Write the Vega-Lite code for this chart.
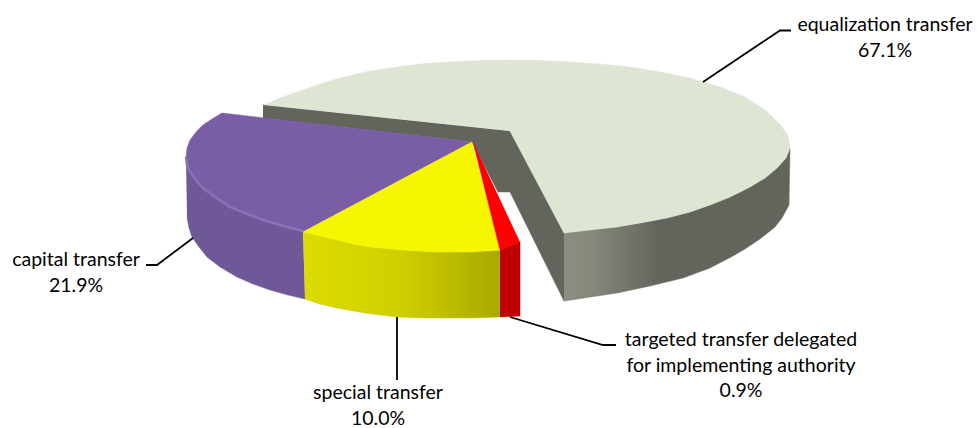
{
"$schema":"https://vega.github.io/schema/vega-lite/v6.json",
"width":977,"height":428,"padding":0,"autosize":{"type":"none"},
"background":"white","view":{"stroke":null},
"datasets":{
"shapes":[
{"p":"innerwall","x":263,"y":105},{"p":"innerwall","x":510,"y":131},{"p":"innerwall","x":564,"y":233},{"p":"innerwall","x":564,"y":301},{"p":"innerwall","x":510,"y":192},{"p":"innerwall","x":498,"y":192},{"p":"innerwall","x":472,"y":142},{"p":"innerwall","x":263,"y":118},
{"p":"outerwall","x":564,"y":233},{"p":"outerwall","x":590,"y":230},{"p":"outerwall","x":617,"y":227},{"p":"outerwall","x":640,"y":223},{"p":"outerwall","x":667,"y":218},{"p":"outerwall","x":690,"y":212},{"p":"outerwall","x":710,"y":205},{"p":"outerwall","x":730,"y":197},{"p":"outerwall","x":750,"y":187},{"p":"outerwall","x":765,"y":178},{"p":"outerwall","x":777,"y":168},{"p":"outerwall","x":786,"y":158},{"p":"outerwall","x":790,"y":148},{"p":"outerwall","x":789,"y":205},{"p":"outerwall","x":782,"y":218},{"p":"outerwall","x":775,"y":227},{"p":"outerwall","x":760,"y":239},{"p":"outerwall","x":745,"y":249},{"p":"outerwall","x":733,"y":256},{"p":"outerwall","x":710,"y":268},{"p":"outerwall","x":683,"y":278},{"p":"outerwall","x":650,"y":286},{"p":"outerwall","x":617,"y":293},{"p":"outerwall","x":590,"y":297},{"p":"outerwall","x":564,"y":301},
{"p":"green","x":265,"y":105},{"p":"green","x":280,"y":98},{"p":"green","x":300,"y":91},{"p":"green","x":320,"y":84},{"p":"green","x":340,"y":78},{"p":"green","x":365,"y":72},{"p":"green","x":390,"y":68},{"p":"green","x":420,"y":64},{"p":"green","x":450,"y":62},{"p":"green","x":480,"y":60.5},{"p":"green","x":510,"y":60},{"p":"green","x":540,"y":60.5},{"p":"green","x":570,"y":62},{"p":"green","x":600,"y":64},{"p":"green","x":630,"y":67},{"p":"green","x":660,"y":72},{"p":"green","x":690,"y":78},{"p":"green","x":720,"y":87},{"p":"green","x":745,"y":97},{"p":"green","x":765,"y":110},{"p":"green","x":780,"y":124},{"p":"green","x":788,"y":136},{"p":"green","x":790,"y":148},{"p":"green","x":786,"y":158},{"p":"green","x":777,"y":168},{"p":"green","x":765,"y":178},{"p":"green","x":750,"y":187},{"p":"green","x":730,"y":197},{"p":"green","x":710,"y":205},{"p":"green","x":690,"y":212},{"p":"green","x":667,"y":218},{"p":"green","x":640,"y":223},{"p":"green","x":617,"y":227},{"p":"green","x":590,"y":230},{"p":"green","x":564,"y":233},{"p":"green","x":510,"y":131},
{"p":"purplewall","x":186,"y":157},{"p":"purplewall","x":187,"y":165},{"p":"purplewall","x":190,"y":172},{"p":"purplewall","x":196,"y":180},{"p":"purplewall","x":203,"y":188},{"p":"purplewall","x":215,"y":197},{"p":"purplewall","x":230,"y":207},{"p":"purplewall","x":245,"y":213},{"p":"purplewall","x":263,"y":220},{"p":"purplewall","x":283,"y":226},{"p":"purplewall","x":303,"y":232},{"p":"purplewall","x":305,"y":299},{"p":"purplewall","x":288,"y":295},{"p":"purplewall","x":270,"y":290},{"p":"purplewall","x":253,"y":284},{"p":"purplewall","x":237,"y":277},{"p":"purplewall","x":220,"y":267},{"p":"purplewall","x":207,"y":257},{"p":"purplewall","x":199,"y":247},{"p":"purplewall","x":192,"y":237},{"p":"purplewall","x":189,"y":228},{"p":"purplewall","x":187,"y":217},
{"p":"purple","x":472,"y":142},{"p":"purple","x":222,"y":113},{"p":"purple","x":212,"y":119},{"p":"purple","x":203,"y":125},{"p":"purple","x":196,"y":132},{"p":"purple","x":190,"y":140},{"p":"purple","x":187,"y":148},{"p":"purple","x":186,"y":157},{"p":"purple","x":187,"y":165},{"p":"purple","x":190,"y":172},{"p":"purple","x":196,"y":180},{"p":"purple","x":203,"y":188},{"p":"purple","x":215,"y":197},{"p":"purple","x":230,"y":207},{"p":"purple","x":245,"y":213},{"p":"purple","x":263,"y":220},{"p":"purple","x":283,"y":226},{"p":"purple","x":303,"y":232},
{"p":"rim","x":186,"y":157},{"p":"rim","x":187,"y":165},{"p":"rim","x":190,"y":172},{"p":"rim","x":196,"y":180},{"p":"rim","x":203,"y":188},{"p":"rim","x":215,"y":197},{"p":"rim","x":230,"y":207},{"p":"rim","x":245,"y":213},{"p":"rim","x":263,"y":220},{"p":"rim","x":283,"y":226},{"p":"rim","x":303,"y":231},
{"p":"yellowwall","x":303,"y":232},{"p":"yellowwall","x":320,"y":236},{"p":"yellowwall","x":337,"y":240},{"p":"yellowwall","x":353,"y":244},{"p":"yellowwall","x":370,"y":247},{"p":"yellowwall","x":403,"y":250},{"p":"yellowwall","x":437,"y":252},{"p":"yellowwall","x":470,"y":252},{"p":"yellowwall","x":500,"y":250},{"p":"yellowwall","x":500,"y":317},{"p":"yellowwall","x":475,"y":318},{"p":"yellowwall","x":453,"y":318},{"p":"yellowwall","x":425,"y":318},{"p":"yellowwall","x":397,"y":317},{"p":"yellowwall","x":365,"y":313},{"p":"yellowwall","x":337,"y":308},{"p":"yellowwall","x":320,"y":304},{"p":"yellowwall","x":305,"y":299},
{"p":"yellow","x":472,"y":142},{"p":"yellow","x":303,"y":232},{"p":"yellow","x":320,"y":236},{"p":"yellow","x":337,"y":240},{"p":"yellow","x":353,"y":244},{"p":"yellow","x":370,"y":247},{"p":"yellow","x":403,"y":250},{"p":"yellow","x":437,"y":252},{"p":"yellow","x":470,"y":252},{"p":"yellow","x":500,"y":250},
{"p":"redwall","x":500,"y":250},{"p":"redwall","x":520,"y":242},{"p":"redwall","x":520,"y":316},{"p":"redwall","x":500,"y":317},
{"p":"red","x":473,"y":142},{"p":"red","x":500,"y":250},{"p":"red","x":520,"y":242},
{"p":"leadA","x":703,"y":82},{"p":"leadA","x":780,"y":30.5},{"p":"leadA","x":791,"y":30.5},
{"p":"leadB","x":193,"y":238},{"p":"leadB","x":157,"y":265},{"p":"leadB","x":146,"y":265},
{"p":"leadC","x":397,"y":317},{"p":"leadC","x":397,"y":380},
{"p":"leadD","x":510,"y":317},{"p":"leadD","x":603,"y":345},{"p":"leadD","x":616,"y":345}
],
"labels":[
{"label":"equalization transfer\n67.1%","x":885,"y":25},
{"label":"capital transfer\n21.9%","x":76,"y":260},
{"label":"special transfer\n10.0%","x":378,"y":393},
{"label":"targeted transfer delegated\nfor implementing authority\n0.9%","x":741,"y":340}
]},
"data":{"name":"shapes"},
"encoding":{
"x":{"field":"x","type":"quantitative","axis":null,"scale":{"domain":[0,977],"nice":false,"zero":false}},
"y":{"field":"y","type":"quantitative","axis":null,"scale":{"domain":[428,0],"nice":false,"zero":false}},
"order":{"value":null}
},
"layer":[
{"transform":[{"filter":"datum.p==='innerwall'"}],"mark":{"type":"line","fill":"#62655c","stroke":"#62655c","strokeWidth":0.5}},
{"transform":[{"filter":"datum.p==='outerwall'"}],"mark":{"type":"line","strokeWidth":0.5,"stroke":"#6a6d63","fill":{"gradient":"linear","x1":0,"y1":0,"x2":1,"y2":0,"stops":[{"offset":0,"color":"#8b8e81"},{"offset":0.12,"color":"#85887b"},{"offset":0.42,"color":"#62655c"},{"offset":1,"color":"#62655b"}]}}},
{"transform":[{"filter":"datum.p==='green'"}],"mark":{"type":"line","fill":"#dfe5d3","stroke":"#dfe5d3","strokeWidth":0.5}},
{"transform":[{"filter":"datum.p==='purplewall'"}],"mark":{"type":"line","fill":"#6f5898","stroke":"#6f5898","strokeWidth":0.5}},
{"transform":[{"filter":"datum.p==='purple'"}],"mark":{"type":"line","fill":"#795ea6","stroke":"#795ea6","strokeWidth":0.5}},
{"transform":[{"filter":"datum.p==='rim'"}],"mark":{"type":"line","stroke":"#8a72b8","strokeWidth":2.5}},
{"transform":[{"filter":"datum.p==='yellowwall'"}],"mark":{"type":"line","strokeWidth":0.5,"stroke":"#c8c800","fill":{"gradient":"linear","x1":0,"y1":0,"x2":1,"y2":0,"stops":[{"offset":0,"color":"#dcdc00"},{"offset":0.5,"color":"#cfcf00"},{"offset":1,"color":"#a9a900"}]}}},
{"transform":[{"filter":"datum.p==='yellow'"}],"mark":{"type":"line","fill":"#f6f600","stroke":"#f6f600","strokeWidth":0.5}},
{"transform":[{"filter":"datum.p==='redwall'"}],"mark":{"type":"line","fill":"#c00000","stroke":"#c00000","strokeWidth":0.5}},
{"transform":[{"filter":"datum.p==='red'"}],"mark":{"type":"line","fill":"#ff0000","stroke":"#ff0000","strokeWidth":0.5}},
{"transform":[{"filter":"indexof(datum.p,'lead')===0"}],"mark":{"type":"line","stroke":"#000000","strokeWidth":1.8},"encoding":{"detail":{"field":"p"}}},
{"data":{"name":"labels"},"mark":{"type":"text","font":"Lato","fontSize":19.5,"lineBreak":"\n","lineHeight":25.5,"align":"center","baseline":"middle","color":"#000000"},"encoding":{"text":{"field":"label"}}}
]
}
